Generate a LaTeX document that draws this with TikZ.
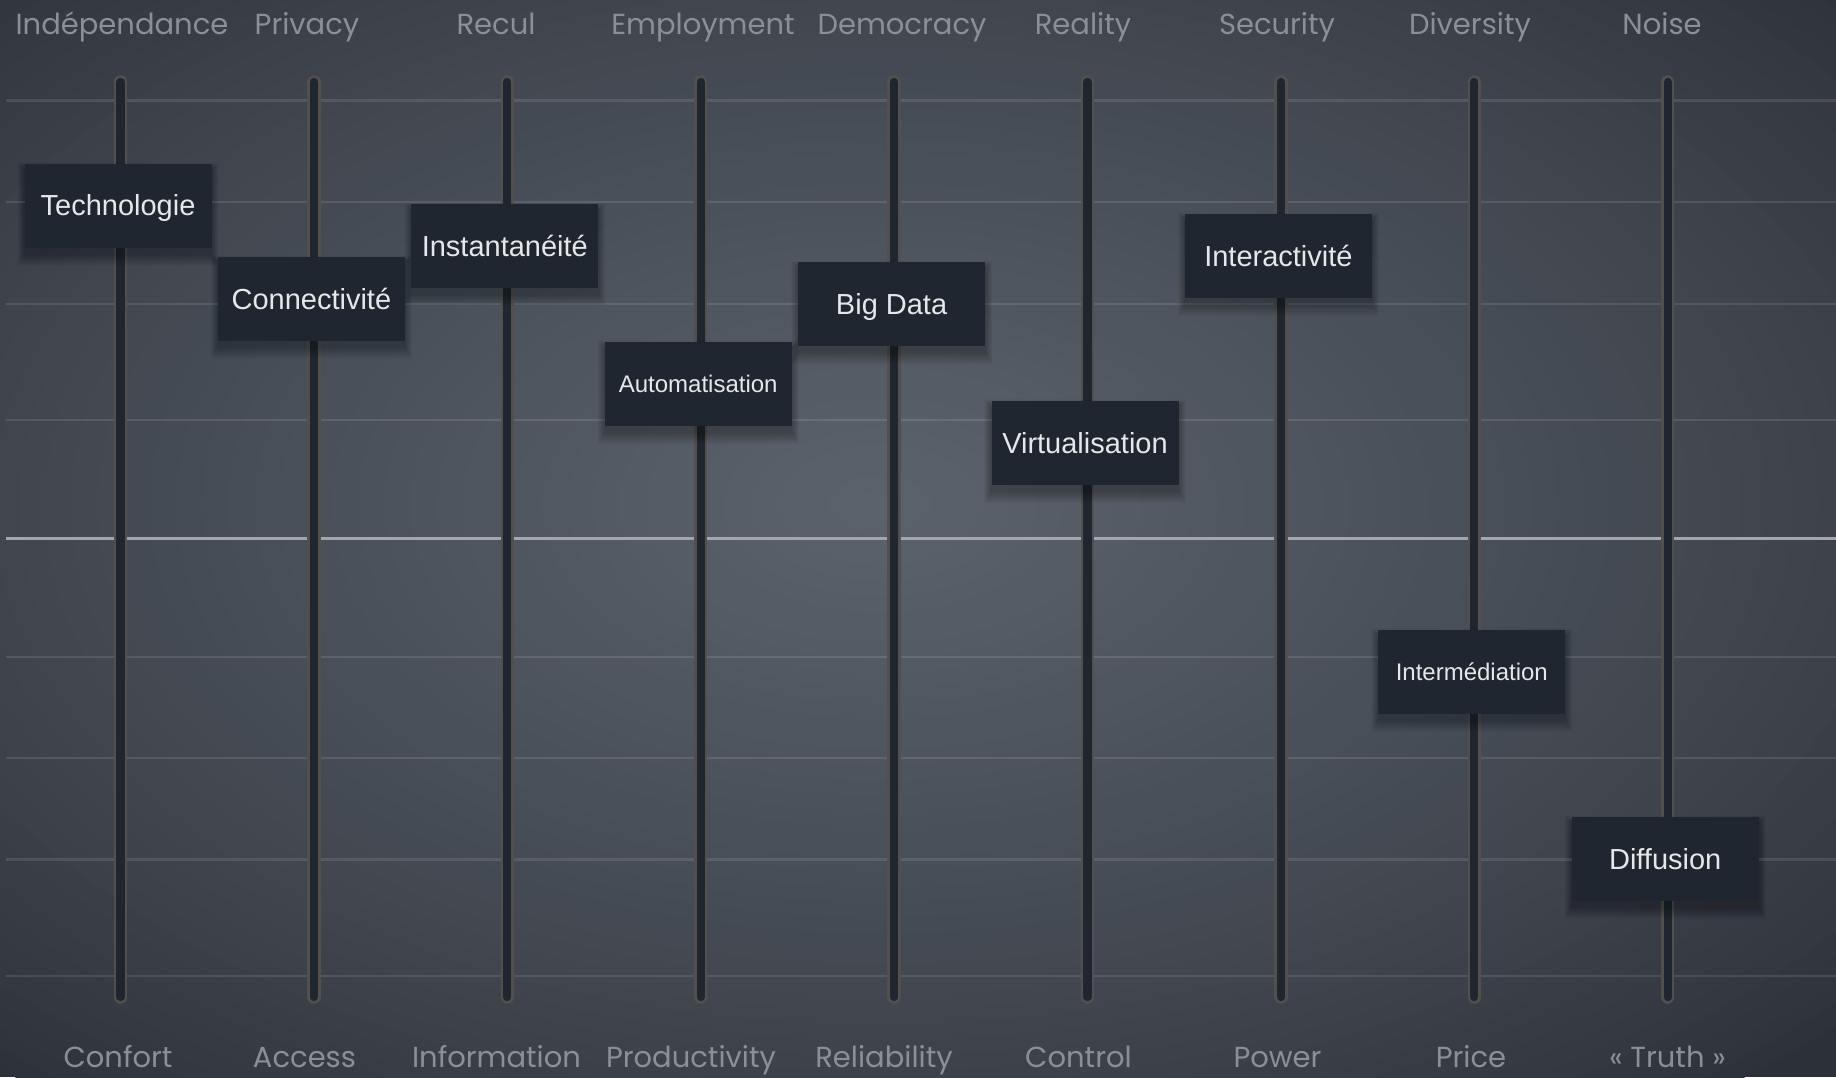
\documentclass[tikz,border=0pt]{standalone}
\usepackage{fontspec}
\setmainfont{Liberation Sans}
\newfontfamily\labfont{Poppins}
\definecolor{bgin}{HTML}{5B626C}
\definecolor{bgout}{HTML}{2C3038}
\definecolor{gridm}{HTML}{A3A6AB}
\definecolor{trackb}{HTML}{52504D}
\definecolor{trackf}{HTML}{1F262F}
\definecolor{knobf}{HTML}{1F2630}
\definecolor{knobt}{HTML}{E6E7E8}
\definecolor{labc}{HTML}{8B9097}
\tikzset{
  gridline/.style={draw=white, draw opacity=0.11, line width=2.6pt},
  gridmid/.style={draw=gridm, line width=2.4pt},
  trackout/.style={draw=trackb, line width=13.5pt, line cap=round},
  trackin/.style={draw=trackf, line width=8.3pt, line cap=round},
  knob/.style={fill=knobf, text=knobt, minimum width=187pt, minimum height=84pt, inner sep=0pt, text depth=0pt},
  bigt/.style={font=\fontsize{29}{30}\selectfont, text height=20.8pt},
  smallt/.style={font=\fontsize{24}{26}\selectfont, text height=17.2pt},
  lab/.style={text=labc, font=\labfont\fontsize{29}{32}\selectfont, anchor=base, inner sep=0pt}
}
\begin{document}
\begin{tikzpicture}[x=1pt,y=-1pt]
\useasboundingbox (0,0) rectangle (1836,1077);
\begin{scope}
  \clip (0,0) rectangle (1836,1077);
  \fill[bgout] (0,0) rectangle (1836,1077);
  \foreach \k in {1,...,50}{
    \pgfmathsetmacro\p{100*(\k/50)^0.8}
    \pgfmathsetmacro\rx{1330*(1-\k/51)}
    \pgfmathsetmacro\ry{780*(1-\k/51)}
    \fill[bgin!\p!bgout] (880,505) ellipse [x radius=\rx pt, y radius=\ry pt];
  }
\end{scope}
% grid
\foreach \yy in {100.5,202,304,420,657,758,859.5,976}
  \draw[gridline] (6,\yy) -- (1836,\yy);
\draw[gridmid] (6,538.5) -- (1836,538.5);
% tracks
\foreach \i in {0,...,8}{
  \pgfmathsetmacro\xx{120.5+193.4*\i}
  \coordinate (t\i) at (\xx,82);
  \coordinate (b\i) at (\xx,997);
  \draw[trackout] (t\i) -- (b\i);
  \draw[trackin] (t\i) -- (b\i);
}
% knob data
\def\knobs{0/205.5/Technologie/bigt,1/299/Connectivité/bigt,2/246/Instantanéité/bigt,3/383.5/Automatisation/smallt,4/304/Big Data/bigt,5/442.6/Virtualisation/bigt,6/256/Interactivité/bigt,7/671.6/Intermédiation/smallt,8/859/Diffusion/bigt}
% shadows
\foreach \i/\yy/\t/\st in \knobs{
  \pgfmathsetmacro\xx{120.5+193.4*\i-2.5}
  \foreach \k in {1,...,12}{
    \fill[black, opacity=0.022] (\xx-93.5-0.6*\k,\yy-42-0.6*\k+6) rectangle (\xx+93.5+0.6*\k,\yy+42+\k+6);
  }
}
% knobs
\foreach \i/\yy/\t/\st in \knobs{
  \pgfmathsetmacro\xx{120.5+193.4*\i-2.5}
  \node[knob,\st] (k\i) at (\xx,\yy) {\t};
}
% top labels
\foreach \i/\t/\xx in {0/Indépendance/122,1/Privacy/307,2/Recul/496,3/Employment/703,4/Democracy/902,5/Reality/1083,6/Security/1277,7/Diversity/1470,8/Noise/1662}
  \node[lab] (top\i) at (\xx,34) {\t};
% bottom labels
\foreach \i/\t/\xx in {0/Confort/118,1/Access/304.5,2/Information/496.5,3/Productivity/691,4/Reliability/884,5/Control/1078.5,6/Power/1277.5,7/Price/1471,8/{« Truth »}/1667.5}
  \node[lab] (bot\i) at (\xx,1067) {\t};
\end{tikzpicture}
\end{document}
